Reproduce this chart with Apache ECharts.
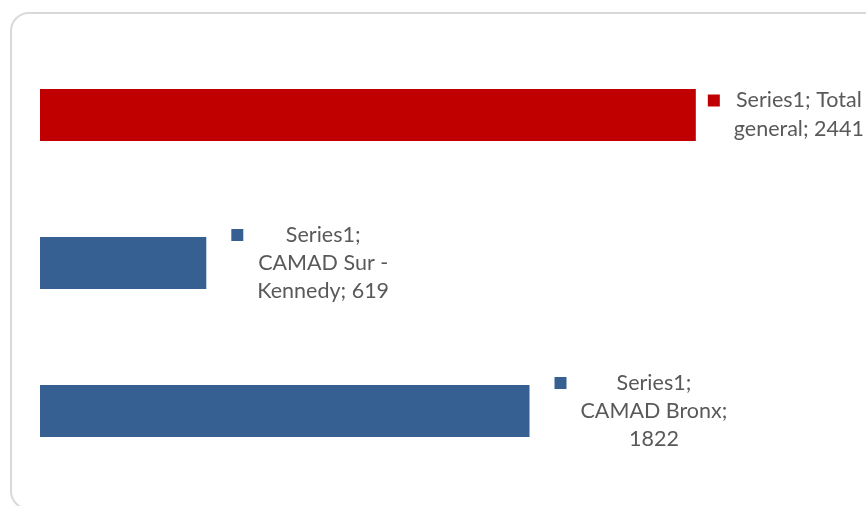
<!DOCTYPE html>
<html>
<head>
<meta charset="utf-8">
<script src="https://cdn.jsdelivr.net/npm/echarts@6/dist/echarts.min.js"></script>
<style>html,body{margin:0;padding:0;background:#fff}#c{width:866px;height:506px}</style>
</head>
<body>
<div id="c"></div>
<script>
// Data (bottom to top on the category axis)
const seriesName = 'Series1';
const categories = ['CAMAD Bronx', 'CAMAD Sur - Kennedy', 'Total general'];
const values = [1822, 619, 2441];
const barColors = ['#376092', '#376092', '#C00000'];

// Line breaks of each data label, as Excel wrapped them
function labelLines(i) {
  if (i === 0) return [seriesName + ';', categories[i] + ';', String(values[i])];
  if (i === 1) return [seriesName + ';', 'CAMAD Sur -', 'Kennedy; ' + values[i]];
  return [seriesName + '; Total', 'general; ' + values[i]];
}

const chart = echarts.init(document.getElementById('c'), null, {renderer: 'canvas'});
const font = 'Lato';
const fsize = 21.5;
function richFor(color, lh) {
  return {
    k: {width: 12, height: 12, backgroundColor: color, align: 'left', lineHeight: lh},
    g: {width: 14, align: 'left', lineHeight: lh},
    s: {width: 26, align: 'left', lineHeight: lh},
    t: {align: 'center', color: '#595959', fontFamily: font, fontSize: fsize, lineHeight: lh}
  };
}
const data = values.map((v, i) => ({
  value: v,
  itemStyle: {color: barColors[i]},
  label: {
    distance: i === 2 ? 12 : 25,
    rich: richFor(barColors[i], i === 2 ? 29 : 28),
    formatter: () => labelLines(i).map((ln, j) =>
      (j === 0 ? '{k|}{g|}' : '{s|}') + '{t|' + ln + '}').join('\n')
  }
}));

chart.setOption({
  animation: false,
  backgroundColor: '#ffffff',
  graphic: [{
    type: 'rect',
    shape: {x: 11, y: 13, width: 900, height: 496, r: 18},
    style: {fill: 'none', stroke: '#d9d9d9', lineWidth: 2},
    silent: true
  }],
  grid: {left: 40, right: 20, top: 41, bottom: 21},
  xAxis: {
    type: 'value', min: 0, max: 3000,
    show: false
  },
  yAxis: {
    type: 'category', data: categories,
    show: false
  },
  series: [{
    name: seriesName,
    type: 'bar',
    data: data,
    barCategoryGap: '65%',
    label: {
      show: true,
      position: 'right',
      align: 'left',
      verticalAlign: 'middle',
      fontFamily: font,
      fontSize: fsize,
      color: '#595959'
    }
  }]
});
</script>
</body>
</html>
